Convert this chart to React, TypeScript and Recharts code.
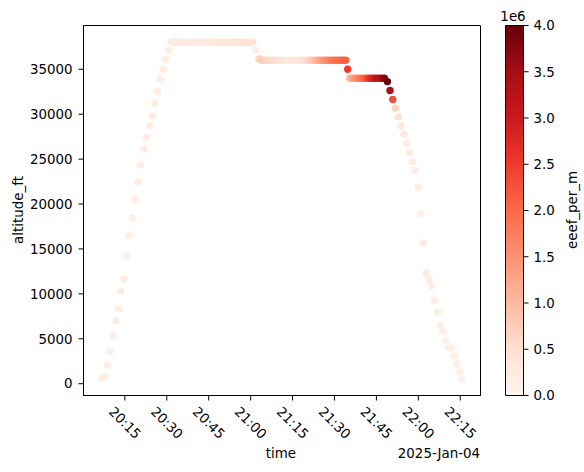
import React from 'react';
import { ScatterChart, Scatter, XAxis, YAxis, BarChart, Bar, ReferenceArea } from 'recharts';

// ---- data (time of day, altitude in ft, eeef per m) ----
const climbTimes = ['20:06:40','20:07:50','20:08:42','20:09:38','20:10:42','20:11:47','20:12:44','20:13:34','20:14:38','20:15:43','20:16:41','20:17:46','20:18:43','20:19:39','20:20:37','20:21:48','20:22:46','20:23:44','20:24:49','20:25:44','20:26:43','20:27:40','20:28:45','20:29:41','20:30:45'];
const climbAlt = [670,780,2080,3560,5380,7020,8320,10280,11660,14220,16520,18490,20490,22460,24350,26090,27430,28700,29770,31180,32550,33890,35000,36110,37120];
const climbEeef = [150000,160000,170000,170000,180000,180000,180000,190000,190000,190000,200000,200000,200000,200000,200000,210000,210000,210000,210000,220000,220000,220000,230000,230000,230000];

const cruise1Times = ['20:31:45','20:32:45','20:33:45','20:34:45','20:35:45','20:36:45','20:37:45','20:38:45','20:39:45','20:40:45','20:41:45','20:42:45','20:43:45','20:44:45','20:45:45','20:46:45','20:47:45','20:48:45','20:49:45','20:50:45','20:51:45','20:52:45','20:53:45','20:54:45','20:55:45','20:56:45','20:57:45','20:58:45','20:59:45','21:00:45'];
const cruise1Alt = [38000,38000,38000,38000,38000,38000,38000,38000,38000,38000,38000,38000,38000,38000,38000,38000,38000,38000,38000,38000,38000,38000,38000,38000,38000,38000,38000,38000,38000,38000];
const cruise1Eeef = [240000,245000,250000,255000,260000,260000,265000,270000,270000,275000,280000,280000,285000,290000,290000,295000,300000,305000,310000,315000,320000,330000,340000,350000,360000,370000,380000,390000,400000,420000];

const step1Times = ['21:01:47','21:02:58'];
const step1Alt = [37150,36150];
const step1Eeef = [200000,650000];

const cruise2Times = ['21:04:00','21:05:00','21:06:00','21:07:00','21:08:00','21:09:00','21:10:00','21:11:00','21:12:00','21:13:00','21:14:00','21:15:00','21:16:00','21:17:00','21:18:00','21:19:00','21:20:00','21:21:00','21:22:00','21:23:00','21:24:00','21:25:00','21:26:00','21:27:00','21:28:00','21:29:00','21:30:00','21:31:00','21:32:00','21:33:00','21:34:00'];
const cruise2Alt = [36000,36000,36000,36000,36000,36000,36000,36000,36000,36000,36000,36000,36000,36000,36000,36000,36000,36000,36000,36000,36000,36000,36000,36000,36000,36000,36000,36000,36000,36000,36000];
const cruise2Eeef = [800000,700000,650000,600000,550000,500000,450000,400000,350000,300000,300000,300000,300000,300000,350000,450000,550000,700000,850000,1000000,1150000,1300000,1450000,1600000,1700000,1800000,1900000,1950000,2000000,2050000,2100000];

const step2Times = ['21:34:44'];
const step2Alt = [35000];
const step2Eeef = [2500000];

const cruise3Times = ['21:35:33','21:36:35','21:37:36','21:38:38','21:39:39','21:40:41','21:41:42','21:42:44','21:43:45','21:44:47','21:45:48','21:46:50','21:47:51'];
const cruise3Alt = [34000,34000,34000,34000,34000,34000,34000,34000,34000,34000,34000,34000,34000];
const cruise3Eeef = [1100000,1300000,1500000,1700000,1900000,2100000,2400000,2700000,2900000,3100000,3300000,3500000,3750000];

const descentTimes = ['21:48:56','21:49:52','21:50:50','21:51:48','21:52:53','21:53:49','21:54:53','21:55:51','21:56:49','21:57:53','21:58:49','21:59:53','22:00:52','22:01:50','22:02:54','22:03:50','22:04:48','22:05:52','22:06:50','22:07:55','22:08:50','22:09:48','22:10:46','22:11:51','22:12:55','22:13:51','22:14:49','22:15:47'];
const descentAlt = [33630,32630,31630,30660,29700,28730,27760,26760,25720,24690,23750,21900,18890,15670,12360,11620,10910,9280,7980,6530,5870,4790,4050,3970,3080,2190,1370,560];
const descentEeef = [4000000,3400000,2300000,650000,420000,330000,280000,250000,230000,220000,210000,200000,200000,190000,190000,180000,180000,180000,170000,170000,170000,160000,160000,160000,150000,150000,150000,150000];

const xTickTimes = ['20:15','20:30','20:45','21:00','21:15','21:30','21:45','22:00','22:15'];
const yTicks = [0,5000,10000,15000,20000,25000,30000,35000];
const cbTicks = [0,500000,1000000,1500000,2000000,2500000,3000000,3500000,4000000];
const cbMax = 4000000;

// ---- helpers ----
const toMin = (s: string) => {
  const [h, m, sec] = s.split(':').map(Number);
  return (h - 20) * 60 + m + (sec || 0) / 60;
};
const fmtMin = (v: number) => {
  const total = Math.round(v);
  const h = 20 + Math.floor(total / 60);
  const m = total % 60;
  return `${h}:${String(m).padStart(2, '0')}`;
};

const REDS = ['#fff5f0','#fee0d2','#fcbba1','#fc9272','#fb6a4a','#ef3b2c','#cb181d','#a50f15','#67000d'];
const hex = (c: string) => [1, 3, 5].map(i => parseInt(c.slice(i, i + 2), 16));
const reds = (t: number) => {
  const tt = Math.max(0, Math.min(1, t));
  const p = tt * 8;
  const i = Math.min(7, Math.floor(p));
  const f = p - i;
  const a = hex(REDS[i]);
  const b = hex(REDS[i + 1]);
  const c = a.map((v, k) => Math.round(v + (b[k] - v) * f));
  return `rgb(${c[0]},${c[1]},${c[2]})`;
};

const segments = [
  [climbTimes, climbAlt, climbEeef],
  [cruise1Times, cruise1Alt, cruise1Eeef],
  [step1Times, step1Alt, step1Eeef],
  [cruise2Times, cruise2Alt, cruise2Eeef],
  [step2Times, step2Alt, step2Eeef],
  [cruise3Times, cruise3Alt, cruise3Eeef],
  [descentTimes, descentAlt, descentEeef],
] as [string[], number[], number[]][];

const table = segments.flatMap(([ts, as, es]) =>
  ts.map((t, i) => ({ t: toMin(t), alt: as[i], eeef: es[i] }))
);

const pad = (vals: number[]) => {
  const mn = Math.min(...vals);
  const mx = Math.max(...vals);
  const r = mx - mn;
  return [mn - 0.05 * r, mx + 0.05 * r] as [number, number];
};
const xDomain = pad(table.map(d => d.t));
const yDomain = pad(table.map(d => d.alt));
const xTicks = xTickTimes.map(s => toMin(s + ':00'));

const FONT = 'DejaVu Sans';
const FS = 13.4;

const XTick = (props: any) => {
  const { x, y, payload } = props;
  const cy = y + 22.5;
  return (
    <text x={x} y={cy} textAnchor="middle" dominantBaseline="central"
      transform={`rotate(45 ${x} ${cy})`} fontSize={FS} fontFamily={FONT} fill="#000">
      {fmtMin(payload.value)}
    </text>
  );
};

const Dot = (props: any) => {
  const { cx, cy, payload } = props;
  if (cx == null || cy == null) return null;
  return <circle cx={cx} cy={cy} r={3.7} fill={reds(payload.eeef / cbMax)} />;
};

const layer: React.CSSProperties = { position: 'absolute', left: 0, top: 0 };

export default function App() {
  return (
    <div style={{ position: 'absolute', left: 0, top: 0, width: 584, height: 472, background: '#fff', fontFamily: FONT }}>
      <div style={layer}>
        <ScatterChart width={584} height={472} margin={{ top: 25.5, right: 103.5, bottom: 16.5, left: 23.5 }}>
          <XAxis dataKey="t" type="number" domain={xDomain} ticks={xTicks} interval={0}
            allowDataOverflow height={60} tickSize={5} tickMargin={0}
            stroke="#000" tickLine={{ stroke: '#000' }} axisLine={{ stroke: '#000' }} tick={<XTick />} />
          <YAxis dataKey="alt" type="number" domain={yDomain} ticks={yTicks} interval={0}
            allowDataOverflow width={60} tickSize={5} tickMargin={6} stroke="#000"
            tickLine={{ stroke: '#000' }} axisLine={{ stroke: '#000' }}
            tick={{ fill: '#000', fontSize: FS, fontFamily: FONT }} />
          <ReferenceArea x1={xDomain[0]} x2={xDomain[1]} y1={yDomain[0]} y2={yDomain[1]}
            fill="none" fillOpacity={0} stroke="#000" strokeWidth={1} ifOverflow="visible" />
          <Scatter data={table} shape={<Dot />} isAnimationActive={false} />
        </ScatterChart>
      </div>
      <div style={layer}>
        <BarChart width={584} height={472} data={[{ k: 'cb', v: cbMax }]}
          margin={{ top: 25.5, right: 10.5, bottom: 76.5, left: 505.5 }} barCategoryGap={0} barGap={0}>
          <defs>
            <linearGradient id="redsCb" x1="0" y1="1" x2="0" y2="0">
              {REDS.map((c, i) => (
                <stop key={i} offset={`${(i / 8) * 100}%`} stopColor={c} />
              ))}
            </linearGradient>
          </defs>
          <XAxis dataKey="k" hide />
          <YAxis orientation="right" type="number" domain={[0, cbMax]} ticks={cbTicks} interval={0}
            width={50} tickSize={5} tickMargin={5} axisLine={false} stroke="#000"
            tickLine={{ stroke: '#000' }}
            tick={{ fill: '#000', fontSize: FS, fontFamily: FONT, textAnchor: 'start' }}
            tickFormatter={(v: number) => (v / 1e6).toFixed(1)} />
          <Bar dataKey="v" fill="url(#redsCb)" stroke="#000" strokeWidth={1} isAnimationActive={false} />
        </BarChart>
      </div>
      <svg style={{ ...layer, pointerEvents: 'none' }} width={584} height={472}>
        <text x={18} y={210} textAnchor="middle" dominantBaseline="central" transform="rotate(-90 18 210)"
          fontSize={FS} fontFamily={FONT} fill="#000">altitude_ft</text>
        <text x={281} y={457.5} textAnchor="middle" fontSize={FS} fontFamily={FONT} fill="#000">time</text>
        <text x={480} y={457.5} textAnchor="end" fontSize={FS} fontFamily={FONT} fill="#000">2025-Jan-04</text>
        <text x={513} y={21} textAnchor="middle" fontSize={FS} fontFamily={FONT} fill="#000">1e6</text>
        <text x={572} y={210} textAnchor="middle" dominantBaseline="central" transform="rotate(-90 572 210)"
          fontSize={FS} fontFamily={FONT} fill="#000">eeef_per_m</text>
      </svg>
    </div>
  );
}
